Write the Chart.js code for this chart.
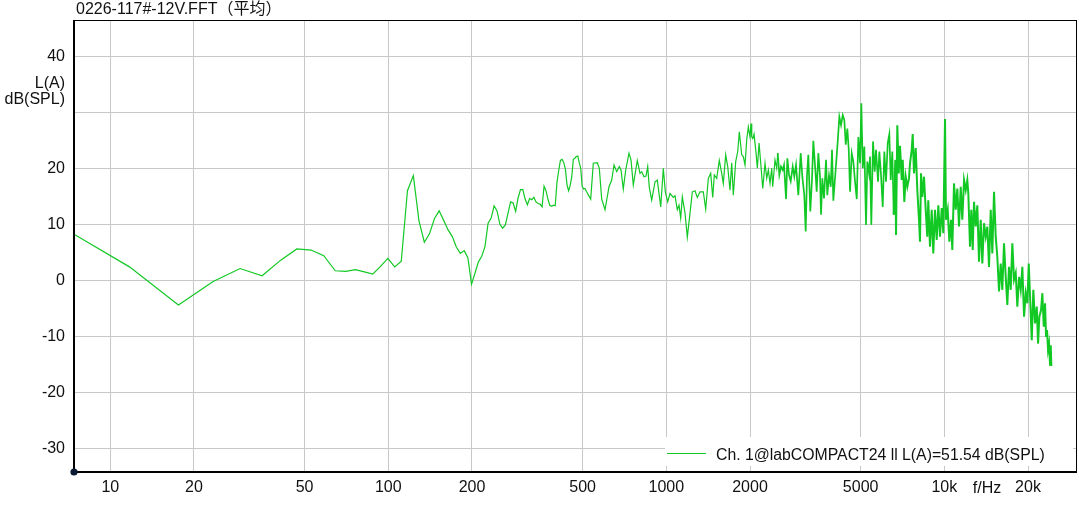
<!DOCTYPE html>
<html>
<head>
<meta charset="utf-8">
<script src="https://cdn.jsdelivr.net/npm/chart.js@4/dist/chart.umd.min.js"></script>
<style>
  html, body { margin: 0; padding: 0; background: #fff; }
  canvas { display: block; }
</style>
</head>
<body>
<canvas id="fft" width="1079" height="506"></canvas>
<script>
// FFT spectrum, L(A) dB(SPL) over frequency (Hz)
const TITLE = '0226-117#-12V.FFT（平均）';
const LEGEND_TEXT = 'Ch. 1@labCOMPACT24 ll L(A)=51.54 dB(SPL)';

// low band: individual FFT bins
const lowFreqs = [5.86, 11.72, 17.58, 23.44, 29.3, 35.16, 41.02, 46.88, 52.73, 58.59,
  64.45, 70.31, 76.17, 82.03, 87.89, 93.75, 99.61, 105.47, 111.33, 117.19,
  123.05, 128.91, 134.77, 140.63, 146.48, 152.34, 158.2, 164.06, 169.92, 175.78,
  181.64, 187.5, 193.36, 199.22, 205.08, 210.94, 216.8, 222.66, 228.52, 234.38,
  240.23, 246.09, 251.95, 257.81, 263.67, 269.53, 275.39, 281.25, 287.11, 292.97,
  298.83, 304.69, 310.55, 316.41, 322.27, 328.13, 333.98, 339.84, 345.7, 351.56,
  357.42, 363.28, 369.14, 375.0, 380.86, 386.72, 392.58, 398.44, 404.3, 410.16,
  416.02, 421.88, 427.73, 433.59, 439.45, 445.31, 451.17, 457.03, 462.89, 468.75,
  474.61, 480.47, 486.33, 492.19, 498.05, 503.91, 509.77, 515.63];
const lowLevels = [11.2, 2.4, -4.4, -0.2, 2.1, 0.8, 3.6, 5.6, 5.4, 4.4,
  1.7, 1.6, 1.9, 1.5, 1.1, 2.5, 3.9, 2.4, 3.4, 16.0,
  18.7, 10.6, 6.8, 8.3, 11.0, 12.4, 10.7, 9.0, 7.8, 5.9,
  4.8, 5.3, 4.0, -0.7, 1.3, 3.3, 4.3, 6.0, 10.2, 11.1,
  13.3, 12.4, 10.0, 9.3, 9.9, 12.0, 14.0, 13.8, 12.3, 14.7,
  16.2, 16.2, 14.5, 13.5, 14.6, 14.4, 14.8, 14.0, 13.7, 13.6,
  13.1, 16.8, 16.0, 14.5, 13.4, 13.2, 13.4, 13.3, 17.5, 19.6,
  21.4, 21.6, 21.0, 19.8, 17.0, 16.0, 17.0, 18.5, 21.6, 21.8,
  22.1, 22.2, 21.0, 20.0, 16.8, 16.3, 16.4, 15.9];

// 500 Hz .. 2 kHz
const midFreqs = [534.6, 546.2, 564.6, 574.1, 585.6, 601.9, 622.1, 636.2, 648.5, 663.1,
  677.5, 687.2, 700.2, 714.5, 734.1, 746.4, 760.8, 786.4, 804.2, 815.6,
  831.4, 845.3, 857.2, 868.5, 886.1, 910.8, 928.2, 954.8, 975.5, 991.8,
  1011.6, 1031.1, 1059.7, 1074.7, 1095.4, 1110.9, 1126.6, 1141.7, 1167.6, 1190,
  1217, 1240.3, 1268.3, 1292.7, 1321.9, 1358.6, 1385.8, 1416.1, 1444.4, 1468.6,
  1488.3, 1518.1, 1551, 1582.3, 1603.2, 1635.5, 1663, 1694.7, 1719, 1741.8,
  1776.6, 1806.4, 1830.6, 1867.2, 1892.3, 1919.1, 1946.3, 1972.4];
const midLevels = [14.5, 20.9, 21.0, 20.0, 14.5, 12.6, 16.7, 17.9, 20.6, 19.4,
  20.3, 19.7, 16.3, 19.7, 22.7, 21.5, 17.0, 21.4, 19.1, 19.4,
  18.5, 18.6, 20.3, 16.6, 14.3, 17.6, 17.9, 13.1, 20.0, 15.8,
  14.0, 15.5, 14.8, 15.1, 12.6, 13.4, 11.1, 14.9, 12.0, 7.7,
  12.0, 15.8, 16.0, 14.8, 15.8, 15.8, 12.7, 18.2, 19.1, 14.8,
  18.8, 18.2, 21.4, 19.1, 17.3, 22.4, 20.3, 16.1, 21.0, 15.2,
  21.2, 23.0, 26.5, 22.4, 22.1, 20.6, 25.1, 27.4];

// 2 kHz .. 7 kHz
const highFreqs = [2000, 2017, 2029, 2046, 2068, 2103, 2125, 2156, 2186, 2223,
  2265, 2297, 2328, 2361, 2394, 2414, 2460, 2495, 2516, 2550,
  2586, 2623, 2651, 2696, 2725, 2763, 2802, 2849, 2887, 2928,
  2984, 3044, 3085, 3136, 3172, 3207, 3242, 3296, 3343, 3379,
  3436, 3475, 3522, 3572, 3602, 3641, 3692, 3754, 3794, 3849,
  3904, 3945, 3988, 4078, 4136, 4192, 4251, 4311, 4369, 4420,
  4479, 4531, 4580, 4645, 4708, 4774, 4842, 4906, 4976, 5029,
  5088, 5156, 5229, 5285, 5360, 5404, 5462, 5540, 5618, 5679,
  5775, 5838, 5920, 6004, 6085, 6171, 6258, 6342, 6415, 6500,
  6577, 6664, 6704, 6775, 6855, 6928];
const highLevels = [25.6, 28.0, 25.6, 25.3, 26.1, 22.7, 20.0, 24.5, 20.9, 16.4,
  20.9, 18.2, 19.7, 17.3, 20.0, 16.7, 21.5, 20.0, 22.7, 18.8,
  20.3, 19.7, 20.6, 14.5, 21.8, 18.8, 17.7, 20.3, 18.5, 20.6,
  15.2, 22.7, 18.5, 15.2, 8.7, 18.8, 22.4, 12.3, 18.2, 24.9,
  19.7, 15.8, 22.7, 18.5, 11.7, 18.2, 14.6, 21.5, 15.2, 18.8,
  16.7, 23.3, 14.2, 20.6, 24.8, 29.2, 27.7, 29.5, 28.6, 24.2,
  27.1, 23.3, 15.8, 22.7, 21.2, 17.6, 14.5, 25.6, 20.9, 31.6,
  20.0, 23.9, 9.9, 21.2, 19.1, 22.1, 9.9, 24.8, 19.4, 23.3,
  17.6, 23.0, 18.8, 13.1, 23.0, 17.6, 24.5, 26.1, 17.9, 23.0,
  11.7, 21.5, 8.1, 27.7, 19.1, 24.0];

// 7 kHz .. 24 kHz
const topFreqs = [7027, 7086, 7180, 7264, 7360, 7464, 7526, 7633, 7697, 7780,
  7890, 7996, 8109, 8176, 8245, 8334, 8451, 8571, 8684, 8756,
  8882, 9008, 9127, 9257, 9390, 9515, 9650, 9787, 9918, 10058,
  10141, 10285, 10423, 10570, 10685, 10836, 10990, 11137, 11295, 11455,
  11607, 11773, 11940, 12098, 12199, 12371, 12505, 12652, 12788, 12969,
  13143, 13329, 13518, 13700, 13893, 14090, 14279, 14480, 14686, 14883,
  15094, 15308, 15510, 15733, 15956, 16167, 16396, 16632, 16852, 17090,
  17333, 17566, 17814, 18066, 18309, 18568, 18832, 19085, 19355, 19629,
  19893, 20123, 20342, 20630, 20903, 21204, 21504, 21738, 21970, 22281,
  22523, 22789, 23032, 23224, 23417, 23612, 23809, 24005, 24144, 24266];
const topLevels = [17.9, 21.5, 14.0, 18.5, 16.7, 18.2, 20.9, 23.3, 26.1, 19.1,
  23.6, 16.1, 10.8, 6.9, 19.1, 14.9, 18.5, 12.6, 7.8, 14.3,
  6.0, 12.6, 4.8, 12.6, 7.2, 13.4, 7.8, 12.9, 8.4, 28.8,
  10.8, 12.6, 6.9, 10.8, 5.4, 17.3, 12.6, 16.4, 9.6, 16.7,
  10.8, 17.9, 16.1, 17.9, 15.5, 6.0, 12.6, 5.4, 14.0, 9.6,
  13.4, 3.3, 10.8, 3.0, 10.2, 7.8, 9.6, 2.4, 12.6, 4.8,
  15.8, 7.8, 4.2, -2.0, 3.0, -1.7, 6.6, 0.6, -4.4, 2.4,
  -1.7, 6.6, 0.1, 1.3, -4.7, 0.6, -1.7, 2.4, -6.5, -2.3,
  -4.1, 3.0, -2.9, -10.7, -1.7, -7.7, -4.7, -11.3, -6.5, -5.3,
  -2.3, -8.3, -4.1, -10.1, -8.9, -12.4, -11.3, -15.1, -11.6, -15.3];

const xTickValues = [10, 20, 50, 100, 200, 500, 1000, 2000, 5000, 10000, 20000];
const xTickLabels = ['10', '20', '50', '100', '200', '500', '1000', '2000', '5000', '10k', '20k'];
const yTickValues = [-30, -20, -10, 0, 10, 20, 30, 40];
const yTickLabels = ['-30', '-20', '-10', '0', '10', '20', '', '40'];

const X_MIN = 7.342, X_MAX = 30010;
const Y_MIN = -34.23, Y_MAX = 46.48;

const FONT = "'Liberation Sans', Arial, 'Noto Sans CJK SC', sans-serif";
const LINE_GREEN = 'rgb(18, 200, 36)';

function toPoints(freqs, levels) {
  return freqs.map((f, i) => ({ x: f, y: levels[i] }));
}

const spectrum = [
  ...toPoints(lowFreqs, lowLevels),
  ...toPoints(midFreqs, midLevels),
  ...toPoints(highFreqs, highLevels),
  ...toPoints(topFreqs, topLevels),
];

// dense part of the spectrum reads as a heavier trace
function segWidth(c) {
  const f = c.p0.parsed.x;
  if (f > 6500) return 2.0;
  if (f > 2500) return 1.7;
  return 1.2;
}

// frame, legend, unit labels, title
const decorPlugin = {
  id: 'decor',
  beforeDraw(chart) {
    const { ctx } = chart;
    ctx.save();
    ctx.fillStyle = '#fff';
    ctx.fillRect(0, 0, chart.width, chart.height);
    ctx.restore();
  },
  afterDatasetsDraw(chart) {
    const { ctx, chartArea: a } = chart;
    ctx.save();

    // frame
    ctx.fillStyle = '#000';
    ctx.fillRect(a.left, a.top, a.right - a.left, 1);
    ctx.fillRect(a.right - 1, a.top, 1, a.bottom - a.top);
    ctx.fillRect(a.left, a.top, 2, a.bottom - a.top + 1);
    ctx.fillRect(a.left, a.bottom - 1, a.right - a.left, 2);

    // legend
    ctx.fillStyle = '#fff';
    ctx.fillRect(665, 437, 408, 29);
    ctx.strokeStyle = LINE_GREEN;
    ctx.lineWidth = 1;
    ctx.beginPath();
    ctx.moveTo(667, 453.5);
    ctx.lineTo(706, 453.5);
    ctx.stroke();
    ctx.fillStyle = '#111';
    ctx.font = '15.8px ' + FONT;
    ctx.textAlign = 'left';
    ctx.textBaseline = 'alphabetic';
    ctx.fillText(LEGEND_TEXT, 716, 460);

    // origin dot
    ctx.fillStyle = '#0b1a33';
    ctx.beginPath();
    ctx.arc(a.left + 1, a.bottom, 3.6, 0, Math.PI * 2);
    ctx.fill();

    // unit labels
    ctx.font = '16px ' + FONT;
    ctx.fillStyle = '#111';
    ctx.textAlign = 'right';
    ctx.fillText('L(A)', 65, 87.5);
    ctx.fillText('dB(SPL)', 65, 104);
    ctx.textAlign = 'center';
    ctx.fillText('f/Hz', 987, 493);

    // title
    ctx.textAlign = 'left';
    ctx.fillText(TITLE, 76, 14);
    ctx.restore();
  }
};

new Chart(document.getElementById('fft'), {
  type: 'line',
  data: {
    datasets: [{
      label: LEGEND_TEXT,
      data: spectrum,
      borderColor: LINE_GREEN,
      borderWidth: 1.2,
      pointRadius: 0,
      tension: 0,
      fill: false,
      segment: { borderWidth: segWidth },
    }]
  },
  options: {
    responsive: false,
    animation: false,
    devicePixelRatio: 1,
    layout: { padding: { top: 20, right: 2, left: 0, bottom: 0 } },
    plugins: {
      legend: { display: false },
      tooltip: { enabled: false },
    },
    scales: {
      x: {
        type: 'logarithmic',
        min: X_MIN,
        max: X_MAX,
        afterBuildTicks: s => { s.ticks = xTickValues.map(v => ({ value: v })); },
        afterFit: s => { s.height = 34; },
        border: { display: false },
        grid: { color: '#c8c8c8', lineWidth: 1, drawTicks: false },
        ticks: {
          autoSkip: false,
          maxRotation: 0,
          padding: 6,
          color: '#111',
          font: { family: FONT, size: 16 },
          callback: v => xTickLabels[xTickValues.indexOf(v)] ?? '',
        },
      },
      y: {
        type: 'linear',
        min: Y_MIN,
        max: Y_MAX,
        afterBuildTicks: s => { s.ticks = yTickValues.map(v => ({ value: v })); },
        afterFit: s => { s.width = 73; },
        border: { display: false },
        grid: { color: '#c8c8c8', lineWidth: 1, drawTicks: false },
        ticks: {
          padding: 8,
          color: '#111',
          font: { family: FONT, size: 16 },
          callback: v => yTickLabels[yTickValues.indexOf(v)] ?? '',
        },
      },
    },
  },
  plugins: [decorPlugin],
});
</script>
</body>
</html>
